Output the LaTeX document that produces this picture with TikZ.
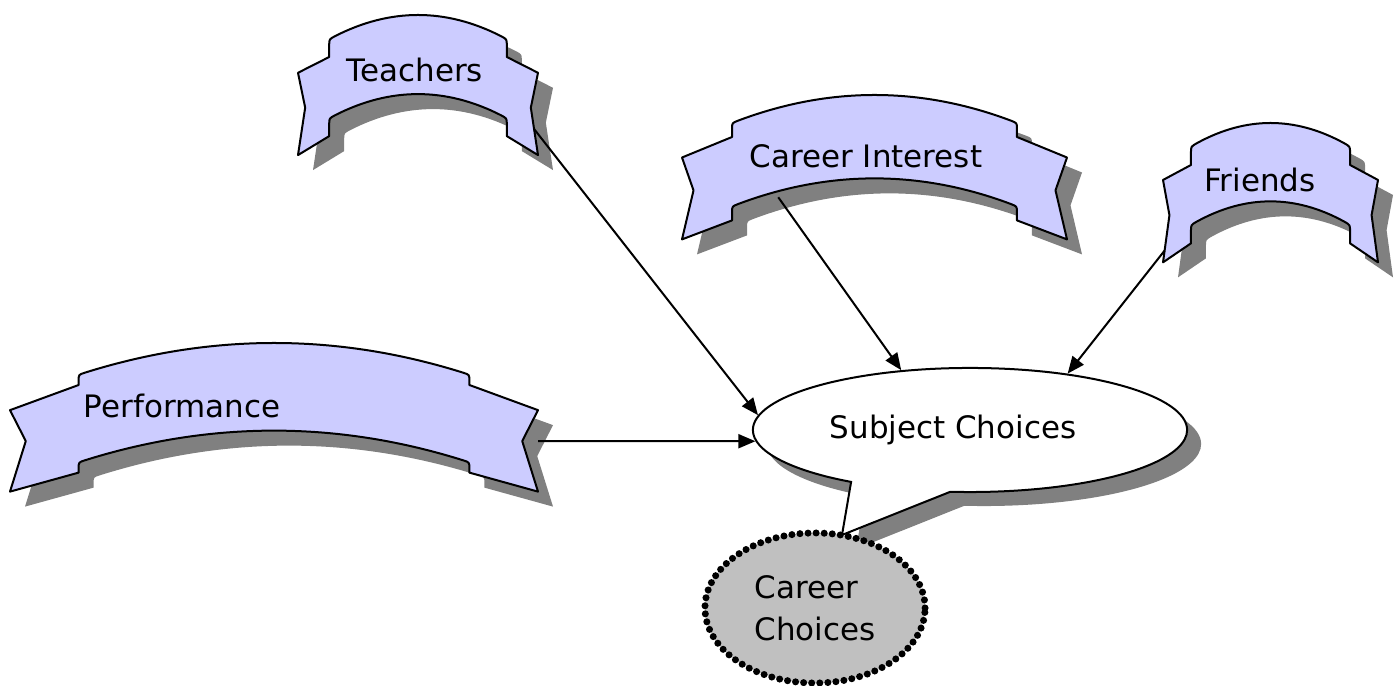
\documentclass[tikz,border=0pt]{standalone}
\usepackage{fontspec}
\setmainfont{DejaVu Sans}
\usetikzlibrary{arrows.meta, calc, shapes.geometric, shapes.callouts, shadows}

\definecolor{ribbonfill}{HTML}{CCCCFF}
\definecolor{shadowgrey}{HTML}{808080}
\definecolor{careerfill}{HTML}{C0C0C0}

% outline of one ribbon, centred on its top point
\newcommand{\rbpath}{(-\rbW, 50+0.25*\rbE) -- (-\rbD, 42) -- (-\rbD, \rbS+6)
  .. controls (-\rbD, \rbS) .. (-\rbD+6, \rbA)
  .. controls (-\rbD+6+\rbQ, \rbA/3) and (-\rbQ, 0) .. (0, 0)
  .. controls (\rbQ, 0) and (\rbD-6-\rbQ, \rbA/3) .. (\rbD-6, \rbA)
  .. controls (\rbD, \rbS) .. (\rbD, \rbS+6) -- (\rbD, 42) -- (\rbW, 50+0.25*\rbE)
  -- (\rbW-0.23*\rbE, 42+0.64*\rbT) -- (\rbW, 61+\rbT) -- (\rbD, 42+\rbT)
  -- (\rbD, \rbT+\rbS+6) .. controls (\rbD, \rbT+\rbS) .. (\rbD-6, \rbT+\rbA)
  .. controls (\rbD-6-\rbQ, \rbT+\rbA/3) and (\rbQ, \rbT) .. (0, \rbT)
  .. controls (-\rbQ, \rbT) and (-\rbD+6+\rbQ, \rbT+\rbA/3) .. (-\rbD+6, \rbT+\rbA)
  .. controls (-\rbD, \rbT+\rbS) .. (-\rbD, \rbT+\rbS+6) -- (-\rbD, 42+\rbT)
  -- (-\rbW, 61+\rbT) -- (-\rbW+0.23*\rbE, 42+0.64*\rbT) -- cycle}

% ribbon: name, centre x, top y, half width
\newcommand{\ribbon}[4]{%
  \def\rbW{#4}%
  \pgfmathsetmacro{\rbE}{0.26*#4}%
  \pgfmathsetmacro{\rbD}{#4-\rbE}%
  \pgfmathsetmacro{\rbS}{18+0.07*\rbD}%
  \pgfmathsetmacro{\rbT}{72+0.08*\rbD}%
  \pgfmathsetmacro{\rbA}{\rbS*((\rbD-6)/\rbD)^2}%
  \pgfmathsetmacro{\rbQ}{(\rbD-6)/3}%
  \begin{scope}[shift={(#2,#3)}]
    \fill[shadowgrey, shift={(15,15)}] \rbpath;
    \draw[ribbonline] \rbpath;
    \coordinate (#1-r)  at (\rbW, 42+0.64*\rbT);
    \coordinate (#1-rn) at (\rbW-0.23*\rbE, 42+0.64*\rbT);
    \coordinate (#1-rb) at (\rbW, 61+\rbT);
    \coordinate (#1-ln) at (-\rbW+0.23*\rbE, 42+0.64*\rbT);
    \coordinate (#1-lb) at (-\rbW, 61+\rbT);
    \coordinate (#1-u)  at (-0.5*\rbW, \rbT+0.46*\rbS+6);
  \end{scope}}

\begin{document}
\begin{tikzpicture}[x=0.01cm, y=-0.01cm,
ribbonline/.style={draw=black, fill=ribbonfill, line width=0.02cm, line join=round},
bannertext/.style={font=\fontsize{8.8}{10}\selectfont, anchor=base, inner sep=0pt},
subjcallout/.style={ellipse callout, draw=black, fill=white, line width=0.02cm, minimum width=4.34cm, minimum height=1.24cm, inner sep=0pt, callout pointer arc=28, font=\fontsize{8.8}{10}\selectfont, drop shadow={shadow xshift=0.14cm, shadow yshift=-0.14cm, fill=shadowgrey, opacity=1}},
careerellipse/.style={ellipse, draw=black, fill=careerfill, line width=2pt, dash pattern=on 0pt off 2.3pt, line cap=round, minimum width=2.2cm, minimum height=1.5cm, inner sep=0pt, align=left, font=\fontsize{8.8}{11.9}\selectfont},
arrow/.style={-{Triangle[length=0.17cm, width=0.14cm]}, line width=0.02cm},
]
\useasboundingbox (0,0) rectangle (1400,686);

%Ribbons
\ribbon{teach}{418}{15}{120}
\ribbon{interest}{874.5}{95}{192.5}
\ribbon{friend}{1270.5}{123}{107.5}
\ribbon{perf}{274}{343}{264}

%Nodes
\node[bannertext]    (teachers)   at (415,82)    {Teachers};
\node[bannertext]    (career)     at (866,168)   {Career Interest};
\node[bannertext]    (friends)    at (1260,192)  {Friends};
\node[bannertext]    (performance) at (182,418)  {Performance};
\node[subjcallout, callout absolute pointer={(842,535)}] (subj) at (970,430) {Subject Choices\hspace*{0.34cm}};
\node[careerellipse] (choice)     at (815,608)   {Career\\Choices};

%Lines
\draw[arrow] ($(teach-rn)!0.45!(teach-rb)$) -- (subj.176);
\draw[arrow] (interest-u) -- (subj.139);
\draw[arrow] ($(friend-ln)!0.75!(friend-lb)$) -- (subj.30);
\draw[arrow] (perf-r) -- (subj.183);
\end{tikzpicture}
\end{document}
